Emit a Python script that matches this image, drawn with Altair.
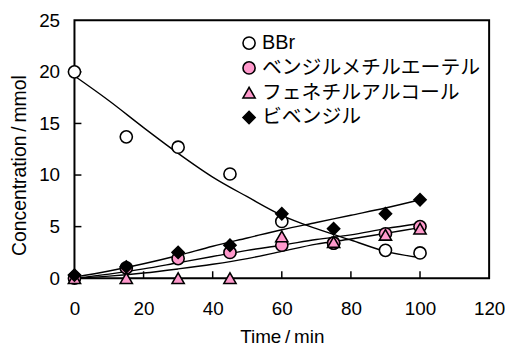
import altair as alt
import pandas as pd

# ---- data ----
series_names = ["BBr", "ベンジルメチルエーテル", "フェネチルアルコール", "ビベンジル"]
times = [0, 15, 30, 45, 60, 75, 90, 100]
bbr = [20.0, 13.7, 12.7, 10.1, 5.5, 3.4, 2.7, 2.45]
ether = [0.0, 1.0, 1.9, 2.5, 3.2, 3.4, 4.3, 5.0]
alcohol = [0.0, 0.0, 0.0, 0.0, 4.05, 3.5, 4.2, 4.8]
bibenzyl = [0.3, 1.1, 2.5, 3.2, 6.25, 4.8, 6.25, 7.6]

# fitted curves
fit_t = [0, 10, 20, 30, 40, 50, 60, 70, 80, 90, 100]
fit_bbr = [19.6, 17.2, 14.6, 12.1, 9.8, 7.9, 6.1, 4.8, 3.7, 2.6, 2.0]
fit_ether = [0.0, 0.4, 0.9, 1.5, 2.1, 2.7, 3.2, 3.75, 4.2, 4.8, 5.3]
fit_alcohol = [0.0, 0.2, 0.5, 0.9, 1.35, 1.9, 2.6, 3.3, 3.8, 4.35, 4.9]
fit_bibenzyl = [0.1, 0.7, 1.4, 2.2, 3.1, 3.9, 4.7, 5.4, 6.1, 6.8, 7.6]

x_ticks = [0, 20, 40, 60, 80, 100, 120]
y_ticks = [0, 5, 10, 15, 20, 25]
x_inner_ticks = [20, 40, 60, 80, 100]
y_inner_ticks = [5, 10, 15, 20]

pts = pd.DataFrame(
    [{"t": t, "v": v, "s": series_names[i], "o": i}
     for i, vals in enumerate([bbr, ether, alcohol, bibenzyl])
     for t, v in zip(times, vals)]
)
fits = pd.DataFrame(
    [{"t": t, "v": v, "s": series_names[i]}
     for i, vals in enumerate([fit_bbr, fit_ether, fit_alcohol, fit_bibenzyl])
     for t, v in zip(fit_t, vals)]
)

W, H = 418, 260
FONT = "Liberation Sans, Arial, 'Noto Sans CJK JP'"
PINK = "#FF99CC"

xs = alt.Scale(domain=[0, 120], nice=False, zero=False)
ys = alt.Scale(domain=[0, 25], nice=False, zero=False)

x_axis = alt.Axis(values=x_ticks, title="Time\u2009/\u2009min", grid=False, ticks=False, domain=False,
                  labelFontSize=19, labelPadding=22, labelColor="black", labelFont=FONT,
                  titleFontSize=19, titleFontWeight="normal", titleFont=FONT, titleColor="black",
                  titlePadding=9, labelFlush=False)
y_axis = alt.Axis(values=y_ticks, title="Concentration\u2009/\u2009mmol", grid=False, ticks=False, domain=False,
                  labelFontSize=19, labelPadding=15, labelColor="black", labelFont=FONT,
                  titleFontSize=19.5, titleFontWeight="normal", titleFont=FONT, titleColor="black",
                  titlePadding=9, titleY=146, labelFlush=False)

leg = alt.Legend(title=None, orient="none", legendX=166, legendY=13,
                 labelFont=FONT, labelFontSize=20, labelColor="black",
                 symbolSize=150, symbolStrokeWidth=1.6, rowPadding=5,
                 labelOffset=3, padding=0, labelLimit=400)

lines = alt.Chart(fits).mark_line(color="black", strokeWidth=1.4, interpolate="monotone", clip=True).encode(
    x=alt.X("t:Q", scale=xs, axis=x_axis),
    y=alt.Y("v:Q", scale=ys, axis=y_axis),
    detail="s:N",
)

points = alt.Chart(pts).mark_point(filled=True, strokeWidth=1.6, size=150, opacity=1).encode(
    x=alt.X("t:Q", scale=xs),
    y=alt.Y("v:Q", scale=ys),
    shape=alt.Shape("s:N", scale=alt.Scale(domain=series_names,
                                           range=["circle", "circle", "triangle-up", "diamond"]),
                    legend=leg),
    fill=alt.Fill("s:N", scale=alt.Scale(domain=series_names,
                                         range=["white", PINK, PINK, "black"]),
                  legend=leg),
    stroke=alt.value("black"),
    order=alt.Order("o:Q"),
)

xt = alt.Chart(pd.DataFrame({"t": x_inner_ticks})).mark_rule(color="black", strokeWidth=1.5).encode(
    x=alt.X("t:Q", scale=xs), y=alt.value(H), y2=alt.value(H - 7)
)
yt = alt.Chart(pd.DataFrame({"v": y_inner_ticks})).mark_rule(color="black", strokeWidth=1.5).encode(
    y=alt.Y("v:Q", scale=ys), x=alt.value(0), x2=alt.value(7)
)

chart = alt.layer(xt, yt, lines, points).properties(
    width=W, height=H,
    autosize=alt.AutoSizeParams(type="none"),
    padding={"left": 67, "top": 11, "right": 16, "bottom": 72},
    background="white",
).configure_view(stroke="black", strokeWidth=2)

chart.save("out.html", embed_options={"renderer": "svg", "actions": False})
